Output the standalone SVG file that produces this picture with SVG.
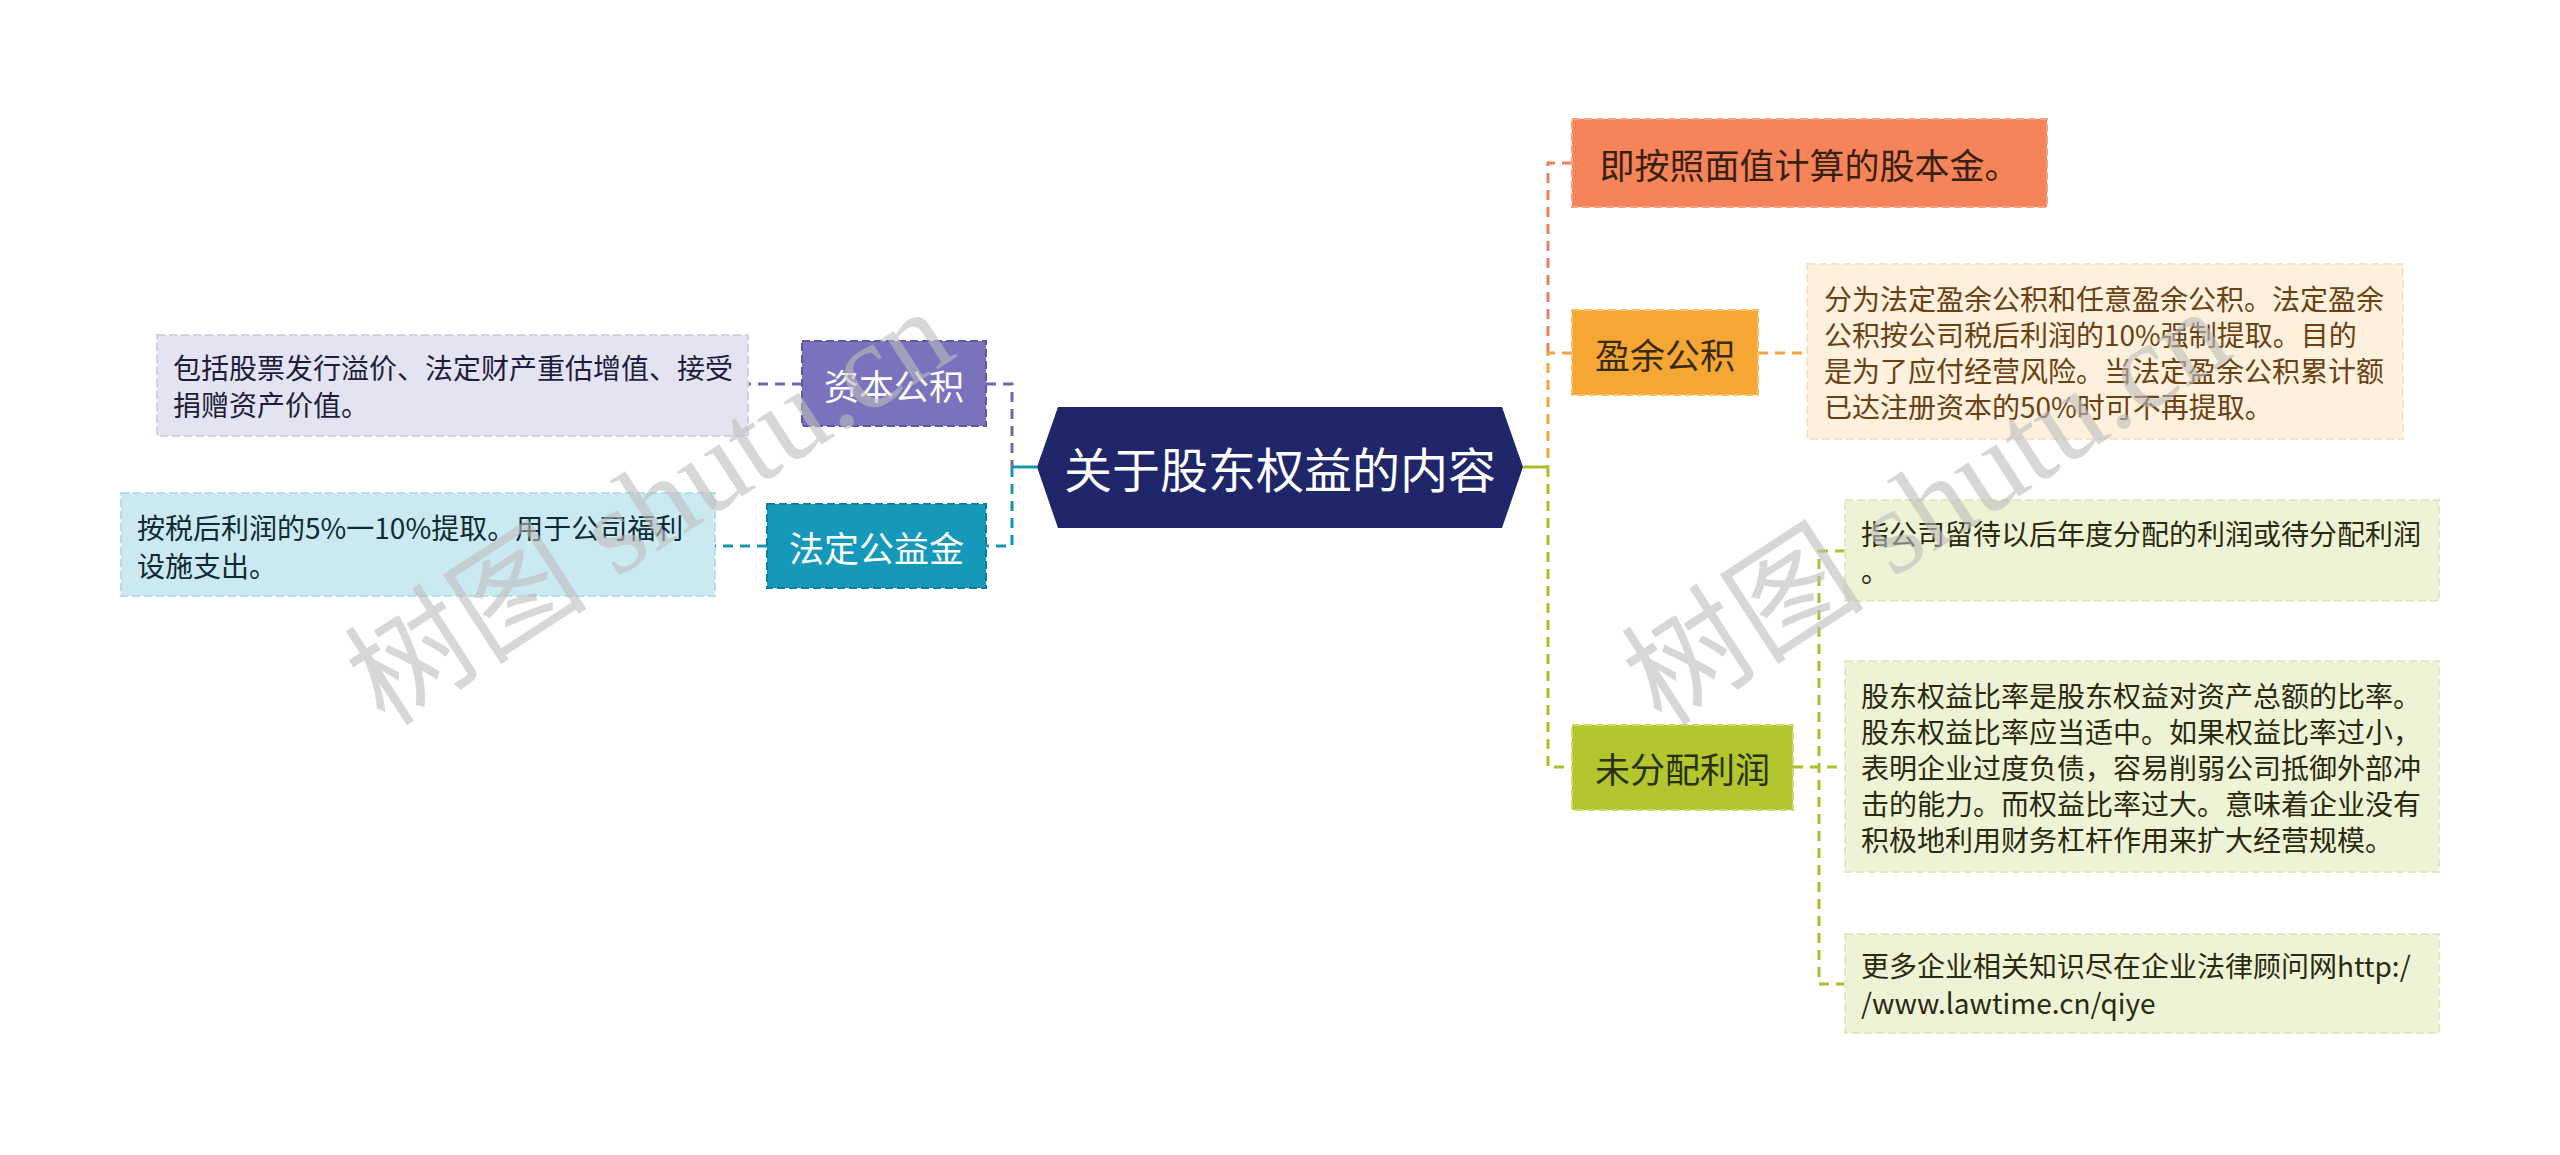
<svg xmlns="http://www.w3.org/2000/svg" width="2560" height="1155" viewBox="0 0 2560 1155">
<style>
text{font-family:"Noto Sans CJK SC","Noto Sans",sans-serif;}
.l1{font-size:35px;text-anchor:middle;dominant-baseline:central;}
.lf{font-size:28px;dominant-baseline:central;}
.dash{fill:none;stroke-width:3;stroke-dasharray:10 7;}
.solid{fill:none;stroke-width:3;}
.bx{stroke-width:2;stroke-dasharray:8 4;}
.wm{font-family:"Liberation Serif","Noto Sans CJK SC",serif;font-size:122px;fill:#bdbdbd;opacity:0.6;}
</style>
<rect width="2560" height="1155" fill="#ffffff"/>
<g id="connectors">
  <path class="solid" d="M1037 467 H1012" stroke="#1a93b0"/>
  <path class="dash" d="M986 384 H1012 V467" stroke="#6d66b0"/>
  <path class="dash" d="M1012 467 V546 H986" stroke="#1a93b0"/>
  <path class="dash" d="M802 384 H748" stroke="#6d66b0"/>
  <path class="dash" d="M767 546 H715" stroke="#1a93b0"/>
  <path class="solid" d="M1523 467 H1548" stroke="#a9c02e"/>
  <path class="dash" d="M1572 163 H1548 V353" stroke="#ef7f60"/>
  <path class="dash" d="M1572 353 H1548 V467" stroke="#f2a53a"/>
  <path class="dash" d="M1548 467 V767 H1572" stroke="#a9c02e"/>
  <path class="dash" d="M1758 353 H1807" stroke="#f2a53a"/>
  <path class="dash" d="M1793 767 H1845" stroke="#a9c02e"/>
  <path class="dash" d="M1845 551 H1819 V984 H1845" stroke="#a9c02e"/>
</g>
<g id="center">
  <polygon points="1037,467 1058,407 1502,407 1523,467 1502,528 1058,528" fill="#20266a"/>
  <text x="1280" y="467" font-size="48" text-anchor="middle" dominant-baseline="central" fill="#ffffff">关于股东权益的内容</text>
</g>
<g id="n-zbgj">
  <rect class="bx" x="802" y="341" width="184" height="85" fill="#7a72bd" stroke="#5f58a6"/>
  <text class="l1" x="894" y="384" fill="#ffffff">资本公积</text>
</g>
<g id="n-zbgj-leaf">
  <rect class="bx" x="157" y="335" width="591" height="101" fill="#e3e3f1" stroke="#d2d2e6"/>
  <text class="lf" fill="#1e1e3c"><tspan x="173" y="367">包括股票发行溢价、法定财产重估增值、接受</tspan><tspan x="173" y="404">捐赠资产价值。</tspan></text>
</g>
<g id="n-fdgyj">
  <rect class="bx" x="767" y="504" width="219" height="84" fill="#1599ba" stroke="#0f7f9c"/>
  <text class="l1" x="876.5" y="546" fill="#ffffff">法定公益金</text>
</g>
<g id="n-fdgyj-leaf">
  <rect class="bx" x="121" y="493" width="594" height="103" fill="#cbe9f1" stroke="#b6dde8"/>
  <text class="lf" fill="#0f2a33"><tspan x="137" y="527">按税后利润的5%一10%提取。用于公司福利</tspan><tspan x="137" y="565">设施支出。</tspan></text>
</g>
<g id="n-gbj">
  <rect class="bx" x="1572" y="119" width="475" height="88" fill="#f5845a" stroke="#f9a27f"/>
  <text class="l1" x="1809.5" y="163" fill="#3a2010">即按照面值计算的股本金。</text>
</g>
<g id="n-yygj">
  <rect class="bx" x="1572" y="310" width="186" height="85" fill="#f6a733" stroke="#f9c06a"/>
  <text class="l1" x="1665" y="353" fill="#3a2a10">盈余公积</text>
</g>
<g id="n-yygj-leaf">
  <rect class="bx" x="1807" y="264" width="596" height="175" fill="#fdf0dc" stroke="#f6e4c6"/>
  <text class="lf" fill="#6b4012"><tspan x="1824" y="298">分为法定盈余公积和任意盈余公积。法定盈余</tspan><tspan x="1824" y="334">公积按公司税后利润的10%强制提取。目的</tspan><tspan x="1824" y="370">是为了应付经营风险。当法定盈余公积累计额</tspan><tspan x="1824" y="406">已达注册资本的50%时可不再提取。</tspan></text>
</g>
<g id="n-wfplr">
  <rect class="bx" x="1572" y="725" width="221" height="85" fill="#b3c62e" stroke="#cbd86a"/>
  <text class="l1" x="1682.5" y="767" fill="#2a3010">未分配利润</text>
</g>
<g id="n-wfplr-leaf1">
  <rect class="bx" x="1845" y="500" width="594" height="101" fill="#eff3d6" stroke="#e2e8c2"/>
  <text class="lf" fill="#2a2a10"><tspan x="1861" y="533">指公司留待以后年度分配的利润或待分配利润</tspan><tspan x="1861" y="570">。</tspan></text>
</g>
<g id="n-wfplr-leaf2">
  <rect class="bx" x="1845" y="661" width="594" height="211" fill="#eff3d6" stroke="#e2e8c2"/>
  <text class="lf" fill="#2a2a10"><tspan x="1861" y="695">股东权益比率是股东权益对资产总额的比率。</tspan><tspan x="1861" y="731">股东权益比率应当适中。如果权益比率过小，</tspan><tspan x="1861" y="767">表明企业过度负债，容易削弱公司抵御外部冲</tspan><tspan x="1861" y="803">击的能力。而权益比率过大。意味着企业没有</tspan><tspan x="1861" y="839">积极地利用财务杠杆作用来扩大经营规模。</tspan></text>
</g>
<g id="n-wfplr-leaf3">
  <rect class="bx" x="1845" y="934" width="594" height="99" fill="#eff3d6" stroke="#e2e8c2"/>
  <text class="lf" fill="#2a2a10"><tspan x="1861" y="965">更多企业相关知识尽在企业法律顾问网http:/</tspan><tspan x="1861" y="1002">/www.lawtime.cn/qiye</tspan></text>
</g>
<g id="watermarks">
  <text class="wm" x="385" y="728" transform="rotate(-33 385 728)">树图 shutu.cn</text>
  <text class="wm" x="1662" y="728" transform="rotate(-33 1662 728)">树图 shutu.cn</text>
</g>
</svg>
